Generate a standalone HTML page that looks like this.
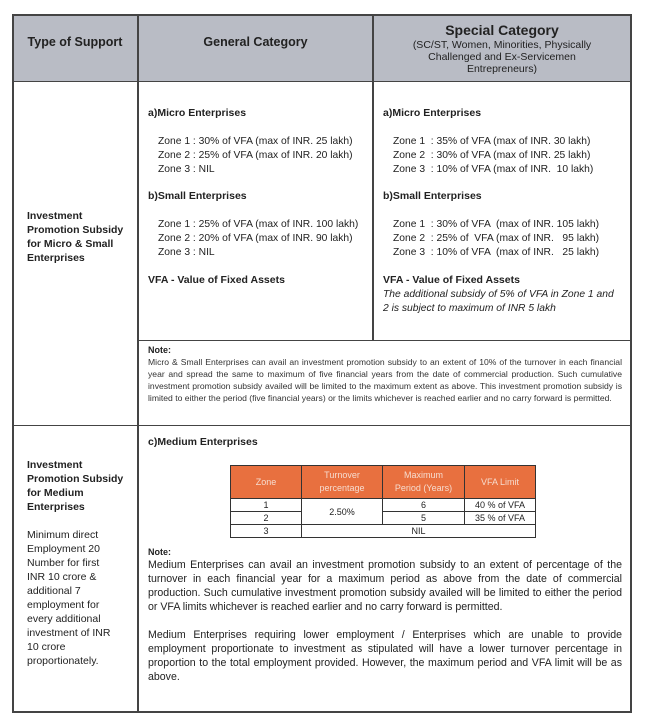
<!DOCTYPE html>
<html><head><style>
body{margin:0;background:#fff;width:650px;height:722px;position:relative;font-family:"Liberation Sans",sans-serif;color:#222;overflow:hidden}
.a{position:absolute;white-space:nowrap}
.l{position:absolute;background:#444}
.b{font-weight:bold}
.s11{font-size:10.5px}
.z{font-size:10.3px}
.n{position:absolute;font-size:8.6px;line-height:12px;text-align:justify;color:#333}
.n2{position:absolute;font-size:10.6px;line-height:14px;text-align:justify;color:#222}
table.t{position:absolute;left:230px;top:465px;width:306px;border-collapse:collapse;font-size:9px;text-align:center}
table.t td{border:1.5px solid #333;padding:0;height:12px;line-height:12px}
table.t th{background:#e8703f;color:#f6dccf;font-weight:normal;border:1.5px solid #333;height:30px;line-height:13px}
</style></head><body>
<div style="position:absolute;left:12px;top:14px;width:619px;height:68px;background:#b9bcc5"></div>
<div class="l" style="left:12px;top:14px;width:620px;height:2px"></div>
<div class="l" style="left:12px;top:81px;width:620px;height:1px"></div>
<div class="l" style="left:12px;top:14px;width:2px;height:699px"></div>
<div class="l" style="left:630px;top:14px;width:2px;height:699px"></div>
<div class="l" style="left:12px;top:711px;width:620px;height:2px"></div>
<div class="l" style="left:137px;top:14px;width:2px;height:699px"></div>
<div class="l" style="left:372px;top:14px;width:2px;height:326px"></div>
<div class="l" style="left:138px;top:340px;width:493px;height:1px"></div>
<div class="l" style="left:12px;top:425px;width:620px;height:1px"></div>

<div class="a b" style="left:13px;width:124px;text-align:center;top:35px;font-size:12.5px">Type of Support</div>
<div class="a b" style="left:138px;width:235px;text-align:center;top:35px;font-size:12.5px">General Category</div>
<div class="a b" style="left:373px;width:258px;text-align:center;top:22px;font-size:14px">Special Category</div>
<div class="a" style="left:373px;width:258px;text-align:center;top:39px;font-size:10.5px;line-height:12px;white-space:normal">(SC/ST, Women, Minorities, Physically<br>Challenged and Ex-Servicemen<br>Entrepreneurs)</div>

<div class="a b s11" style="left:27px;top:209px;line-height:14px">Investment<br>Promotion Subsidy<br>for Micro &amp; Small<br>Enterprises</div>

<div class="a b s11" style="left:148px;top:107px">a)Micro Enterprises</div>
<div class="a z" style="left:158px;top:135px;line-height:14px">Zone 1 : 30% of VFA (max of INR. 25 lakh)<br>Zone 2 : 25% of VFA (max of INR. 20 lakh)<br>Zone 3 : NIL</div>
<div class="a b s11" style="left:148px;top:190px">b)Small Enterprises</div>
<div class="a z" style="left:158px;top:218px;line-height:14px">Zone 1 : 25% of VFA (max of INR. 100 lakh)<br>Zone 2 : 20% of VFA (max of INR. 90 lakh)<br>Zone 3 : NIL</div>
<div class="a b s11" style="left:148px;top:274px">VFA - Value of Fixed Assets</div>

<div class="a b s11" style="left:383px;top:107px">a)Micro Enterprises</div>
<div class="a z" style="left:393px;top:135px;line-height:14px">Zone 1 &nbsp;: 35% of VFA (max of INR. 30 lakh)<br>Zone 2 &nbsp;: 30% of VFA (max of INR. 25 lakh)<br>Zone 3 &nbsp;: 10% of VFA (max of INR. &nbsp;10 lakh)</div>
<div class="a b s11" style="left:383px;top:190px">b)Small Enterprises</div>
<div class="a z" style="left:393px;top:218px;line-height:14px">Zone 1 &nbsp;: 30% of VFA &nbsp;(max of INR. 105 lakh)<br>Zone 2 &nbsp;: 25% of &nbsp;VFA (max of INR. &nbsp;&nbsp;95 lakh)<br>Zone 3 &nbsp;: 10% of VFA &nbsp;(max of INR. &nbsp;&nbsp;25 lakh)</div>
<div class="a b s11" style="left:383px;top:274px">VFA - Value of Fixed Assets</div>
<div class="a z" style="left:383px;top:288px;line-height:14px;font-style:italic">The additional subsidy of 5% of VFA in Zone 1 and<br>2 is subject to maximum of INR 5 lakh</div>

<div class="a b" style="left:148px;top:345px;font-size:9px">Note:</div>
<div class="n" style="left:148px;top:356px;width:474px">Micro &amp; Small Enterprises can avail an investment promotion subsidy to an extent of 10% of the turnover in each financial year and spread the same to maximum of five financial years from the date of commercial production. Such cumulative investment promotion subsidy availed will be limited to the maximum extent as above. This investment promotion subsidy is limited to either the period (five financial years) or the limits whichever is reached earlier and no carry forward is permitted.</div>

<div class="a b s11" style="left:148px;top:436px">c)Medium Enterprises</div>
<table class="t">
<tr><th style="width:68px">Zone</th><th style="width:78px">Turnover<br>percentage</th><th style="width:79px">Maximum<br>Period (Years)</th><th>VFA Limit</th></tr>
<tr><td>1</td><td rowspan="2">2.50%</td><td>6</td><td>40 % of VFA</td></tr>
<tr><td>2</td><td>5</td><td>35 % of VFA</td></tr>
<tr><td>3</td><td colspan="3">NIL</td></tr>
</table>

<div class="a b" style="left:148px;top:547px;font-size:9px">Note:</div>
<div class="n2" style="left:148px;top:558px;width:474px">Medium Enterprises can avail an investment promotion subsidy to an extent of percentage of the turnover in each financial year for a maximum period as above from the date of commercial production. Such cumulative investment promotion subsidy availed will be limited to either the period or VFA limits whichever is reached earlier and no carry forward is permitted.</div>
<div class="n2" style="left:148px;top:628px;width:474px">Medium Enterprises requiring lower employment / Enterprises which are unable to provide employment proportionate to investment as stipulated will have a lower turnover percentage in proportion to the total employment provided. However, the maximum period and VFA limit will be as above.</div>

<div class="a b s11" style="left:27px;top:458px;line-height:14px">Investment<br>Promotion Subsidy<br>for Medium<br>Enterprises</div>
<div class="a s11" style="left:27px;top:528px;line-height:14px">Minimum direct<br>Employment 20<br>Number for first<br>INR 10 crore &amp;<br>additional 7<br>employment for<br>every additional<br>investment of INR<br>10 crore<br>proportionately.</div>
</body></html>
